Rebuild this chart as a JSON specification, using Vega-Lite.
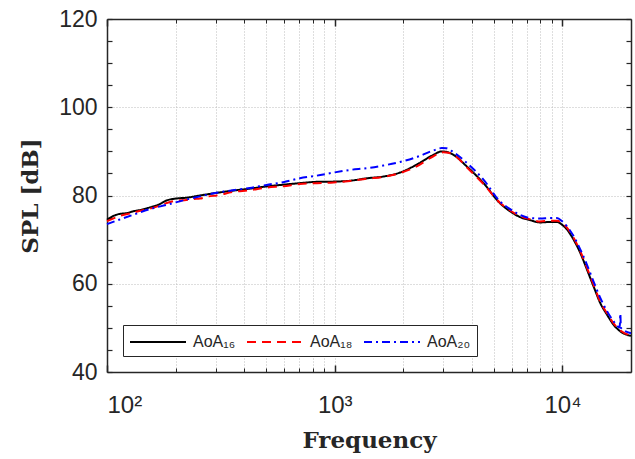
{
  "$schema": "https://vega.github.io/schema/vega-lite/v6.json",
  "width": 524,
  "height": 353,
  "autosize": {"type": "none"},
  "padding": {"left": 107, "top": 19, "right": 4, "bottom": 87},
  "background": "white",
  "config": {"view": {"stroke": null}},
  "datasets": {
    "curves": [
      {"s":"AoA₁₆","f":100,"spl":74.5},{"s":"AoA₁₆","f":106,"spl":75.3},{"s":"AoA₁₆","f":113,"spl":75.8},{"s":"AoA₁₆","f":122,"spl":76.0},{"s":"AoA₁₆","f":130,"spl":76.4},{"s":"AoA₁₆","f":142,"spl":76.8},{"s":"AoA₁₆","f":154,"spl":77.3},{"s":"AoA₁₆","f":168,"spl":77.9},{"s":"AoA₁₆","f":183,"spl":78.9},{"s":"AoA₁₆","f":200,"spl":79.3},{"s":"AoA₁₆","f":223,"spl":79.5},{"s":"AoA₁₆","f":256,"spl":80.0},{"s":"AoA₁₆","f":303,"spl":80.6},{"s":"AoA₁₆","f":357,"spl":81.1},{"s":"AoA₁₆","f":424,"spl":81.55},{"s":"AoA₁₆","f":502,"spl":82.05},{"s":"AoA₁₆","f":594,"spl":82.45},{"s":"AoA₁₆","f":703,"spl":82.8},{"s":"AoA₁₆","f":835,"spl":83.1},{"s":"AoA₁₆","f":988,"spl":83.15},{"s":"AoA₁₆","f":1169,"spl":83.35},{"s":"AoA₁₆","f":1383,"spl":83.9},{"s":"AoA₁₆","f":1636,"spl":84.3},{"s":"AoA₁₆","f":1936,"spl":85.2},{"s":"AoA₁₆","f":2291,"spl":87.0},{"s":"AoA₁₆","f":2712,"spl":89.2},{"s":"AoA₁₆","f":2950,"spl":90.0},{"s":"AoA₁₆","f":3090,"spl":89.9},{"s":"AoA₁₆","f":3300,"spl":89.3},{"s":"AoA₁₆","f":3800,"spl":86.6},{"s":"AoA₁₆","f":4500,"spl":82.8},{"s":"AoA₁₆","f":5330,"spl":78.2},{"s":"AoA₁₆","f":5896,"spl":76.4},{"s":"AoA₁₆","f":6523,"spl":75.1},{"s":"AoA₁₆","f":7220,"spl":74.4},{"s":"AoA₁₆","f":7988,"spl":73.9},{"s":"AoA₁₆","f":8841,"spl":74.0},{"s":"AoA₁₆","f":9459,"spl":74.0},{"s":"AoA₁₆","f":9949,"spl":73.4},{"s":"AoA₁₆","f":10466,"spl":72.3},{"s":"AoA₁₆","f":11190,"spl":70.0},{"s":"AoA₁₆","f":11973,"spl":67.0},{"s":"AoA₁₆","f":12817,"spl":63.2},{"s":"AoA₁₆","f":13697,"spl":59.4},{"s":"AoA₁₆","f":14664,"spl":55.6},{"s":"AoA₁₆","f":15689,"spl":53.0},{"s":"AoA₁₆","f":16777,"spl":50.7},{"s":"AoA₁₆","f":17955,"spl":49.2},{"s":"AoA₁₆","f":20000,"spl":48.2},
      {"s":"AoA₁₈","f":100,"spl":74.2},{"s":"AoA₁₈","f":113,"spl":75.3},{"s":"AoA₁₈","f":130,"spl":76.1},{"s":"AoA₁₈","f":142,"spl":76.6},{"s":"AoA₁₈","f":154,"spl":77.0},{"s":"AoA₁₈","f":168,"spl":77.6},{"s":"AoA₁₈","f":183,"spl":78.3},{"s":"AoA₁₈","f":200,"spl":78.8},{"s":"AoA₁₈","f":223,"spl":79.0},{"s":"AoA₁₈","f":240,"spl":79.2},{"s":"AoA₁₈","f":256,"spl":79.3},{"s":"AoA₁₈","f":280,"spl":79.8},{"s":"AoA₁₈","f":303,"spl":80.0},{"s":"AoA₁₈","f":357,"spl":80.8},{"s":"AoA₁₈","f":424,"spl":81.2},{"s":"AoA₁₈","f":502,"spl":81.8},{"s":"AoA₁₈","f":594,"spl":82.1},{"s":"AoA₁₈","f":703,"spl":82.6},{"s":"AoA₁₈","f":835,"spl":82.8},{"s":"AoA₁₈","f":988,"spl":82.95},{"s":"AoA₁₈","f":1169,"spl":83.3},{"s":"AoA₁₈","f":1383,"spl":83.8},{"s":"AoA₁₈","f":1636,"spl":84.2},{"s":"AoA₁₈","f":1936,"spl":85.1},{"s":"AoA₁₈","f":2291,"spl":86.6},{"s":"AoA₁₈","f":2712,"spl":88.9},{"s":"AoA₁₈","f":3000,"spl":89.8},{"s":"AoA₁₈","f":3150,"spl":89.7},{"s":"AoA₁₈","f":3400,"spl":88.9},{"s":"AoA₁₈","f":3800,"spl":86.4},{"s":"AoA₁₈","f":4500,"spl":82.6},{"s":"AoA₁₈","f":5330,"spl":78.3},{"s":"AoA₁₈","f":5896,"spl":76.6},{"s":"AoA₁₈","f":6523,"spl":75.3},{"s":"AoA₁₈","f":7220,"spl":74.6},{"s":"AoA₁₈","f":7988,"spl":74.1},{"s":"AoA₁₈","f":8841,"spl":74.3},{"s":"AoA₁₈","f":9459,"spl":74.3},{"s":"AoA₁₈","f":9949,"spl":73.8},{"s":"AoA₁₈","f":10466,"spl":72.7},{"s":"AoA₁₈","f":11190,"spl":70.4},{"s":"AoA₁₈","f":11973,"spl":67.4},{"s":"AoA₁₈","f":12817,"spl":63.6},{"s":"AoA₁₈","f":13697,"spl":59.8},{"s":"AoA₁₈","f":14664,"spl":55.9},{"s":"AoA₁₈","f":15689,"spl":53.3},{"s":"AoA₁₈","f":16777,"spl":51.0},{"s":"AoA₁₈","f":17955,"spl":49.4},{"s":"AoA₁₈","f":20000,"spl":48.3},
      {"s":"AoA₂₀","f":100,"spl":73.5},{"s":"AoA₂₀","f":113,"spl":74.5},{"s":"AoA₂₀","f":130,"spl":75.6},{"s":"AoA₂₀","f":154,"spl":76.9},{"s":"AoA₂₀","f":183,"spl":77.9},{"s":"AoA₂₀","f":216,"spl":78.9},{"s":"AoA₂₀","f":256,"spl":79.8},{"s":"AoA₂₀","f":303,"spl":80.6},{"s":"AoA₂₀","f":357,"spl":81.2},{"s":"AoA₂₀","f":424,"spl":81.7},{"s":"AoA₂₀","f":502,"spl":82.4},{"s":"AoA₂₀","f":594,"spl":83.0},{"s":"AoA₂₀","f":703,"spl":83.9},{"s":"AoA₂₀","f":835,"spl":84.5},{"s":"AoA₂₀","f":988,"spl":85.2},{"s":"AoA₂₀","f":1169,"spl":85.8},{"s":"AoA₂₀","f":1383,"spl":86.2},{"s":"AoA₂₀","f":1636,"spl":86.8},{"s":"AoA₂₀","f":1936,"spl":87.6},{"s":"AoA₂₀","f":2291,"spl":88.7},{"s":"AoA₂₀","f":2712,"spl":90.2},{"s":"AoA₂₀","f":2950,"spl":90.75},{"s":"AoA₂₀","f":3090,"spl":90.7},{"s":"AoA₂₀","f":3300,"spl":89.9},{"s":"AoA₂₀","f":3800,"spl":87.4},{"s":"AoA₂₀","f":4500,"spl":83.6},{"s":"AoA₂₀","f":5330,"spl":78.6},{"s":"AoA₂₀","f":5896,"spl":76.9},{"s":"AoA₂₀","f":6523,"spl":75.6},{"s":"AoA₂₀","f":7220,"spl":74.9},{"s":"AoA₂₀","f":7988,"spl":74.8},{"s":"AoA₂₀","f":8841,"spl":74.9},{"s":"AoA₂₀","f":9459,"spl":74.9},{"s":"AoA₂₀","f":9949,"spl":74.2},{"s":"AoA₂₀","f":10466,"spl":73.0},{"s":"AoA₂₀","f":11190,"spl":70.8},{"s":"AoA₂₀","f":11973,"spl":67.8},{"s":"AoA₂₀","f":12817,"spl":64.3},{"s":"AoA₂₀","f":13697,"spl":60.5},{"s":"AoA₂₀","f":14664,"spl":56.8},{"s":"AoA₂₀","f":15689,"spl":53.8},{"s":"AoA₂₀","f":16777,"spl":51.5},{"s":"AoA₂₀","f":17850,"spl":50.1},{"s":"AoA₂₀","f":17955,"spl":53.2},{"s":"AoA₂₀","f":18060,"spl":50.0},{"s":"AoA₂₀","f":20000,"spl":48.8}
    ]
  },
  "data": {"name": "curves"},
  "layer": [
    {
      "mark": {"type": "line", "opacity": 0},
      "encoding": {
        "x": {"field": "f", "type": "quantitative", "scale": {"type": "log", "domain": [100, 20000], "nice": false},
          "axis": {"orient": "bottom", "values": [200,300,400,500,600,700,800,900,1000,2000,3000,4000,5000,6000,7000,8000,9000,10000],
            "grid": true, "gridColor": "#bdbdbd", "gridDash": [1, 2], "gridWidth": 1,
            "ticks": true, "tickSize": -4, "tickColor": "#262626", "tickWidth": 1,
            "labels": false, "domain": false, "title": null}},
        "y": {"field": "spl", "type": "quantitative", "scale": {"domain": [40, 120], "nice": false, "zero": false},
          "axis": {"orient": "left", "values": [60, 80, 100], "grid": true, "gridColor": "#bdbdbd", "gridDash": [1, 2], "gridWidth": 1,
            "ticks": false, "labels": false, "domain": false, "title": null}}
      }
    },
    {
      "mark": {"type": "line", "opacity": 0},
      "encoding": {
        "x": {"field": "f", "type": "quantitative", "scale": {"type": "log", "domain": [100, 20000], "nice": false},
          "axis": {"orient": "top", "values": [100, 1000, 10000], "grid": false, "tickSize": -7, "tickColor": "#262626", "tickWidth": 1.5,
            "labels": false, "domain": true, "domainColor": "#262626", "domainWidth": 1.5, "title": null}},
        "y": {"field": "spl", "type": "quantitative", "scale": {"domain": [40, 120], "nice": false, "zero": false},
          "axis": {"orient": "right", "values": [40,45,50,55,60,65,70,75,80,85,90,95,100,105,110,115,120], "grid": false,
            "tickSize": -5, "tickColor": "#262626", "tickWidth": 1.2, "labels": false, "domain": true, "domainColor": "#262626", "domainWidth": 1.5, "title": null}}
      }
    },
    {
      "mark": {"type": "line", "opacity": 0},
      "encoding": {
        "x": {"field": "f", "type": "quantitative", "scale": {"type": "log", "domain": [100, 20000], "nice": false},
          "axis": {"orient": "top", "values": [200,300,400,500,600,700,800,900,2000,3000,4000,5000,6000,7000,8000,9000],
            "grid": false, "tickSize": -4, "tickColor": "#262626", "tickWidth": 1, "labels": false, "domain": false, "title": null}},
        "y": {"field": "spl", "type": "quantitative", "axis": null}
      }
    },
    {
      "mark": {"type": "line", "strokeWidth": 2, "interpolate": "monotone"},
      "encoding": {
        "x": {"field": "f", "type": "quantitative", "scale": {"type": "log", "domain": [100, 20000], "nice": false},
          "axis": {"orient": "bottom", "values": [100, 1000, 10000], "grid": false, "tickSize": -7, "tickColor": "#262626", "tickWidth": 1.5,
            "labelExpr": "datum.value == 100 ? '10²' : datum.value == 1000 ? '10³' : '10⁴'",
            "labelFont": "Liberation Sans", "labelFontSize": 24, "labelColor": "#262626", "labelPadding": 28,
            "domain": true, "domainColor": "#262626", "domainWidth": 1.5,
            "title": "Frequency", "titleFont": "DejaVu Serif", "titleFontSize": 23, "titleFontWeight": "bold", "titleColor": "#262626",
            "titleX": 262, "titleY": 75, "titleBaseline": "alphabetic", "titleAlign": "center"}},
        "y": {"field": "spl", "type": "quantitative", "scale": {"domain": [40, 120], "nice": false, "zero": false},
          "axis": {"orient": "left", "values": [40,45,50,55,60,65,70,75,80,85,90,95,100,105,110,115,120], "grid": false,
            "tickSize": -5, "tickColor": "#262626", "tickWidth": 1.2,
            "labelExpr": "datum.value % 20 == 0 ? datum.label : ''",
            "labelFont": "Liberation Sans", "labelFontSize": 23, "labelColor": "#262626", "labelPadding": 15,
            "domain": true, "domainColor": "#262626", "domainWidth": 1.5,
            "title": "SPL [dB]", "titleFont": "DejaVu Serif", "titleFontSize": 23, "titleFontWeight": "bold", "titleColor": "#262626",
            "titleX": -77, "titleY": 176.5, "titleAngle": 270, "titleBaseline": "middle", "titleAlign": "center"}},
        "color": {"field": "s", "type": "nominal",
          "scale": {"domain": ["AoA₁₆", "AoA₁₈", "AoA₂₀"], "range": ["#000000", "#ff0000", "#0000ff"]},
          "legend": {"orient": "none", "legendX": 16, "legendY": 306, "direction": "horizontal", "title": null,
            "strokeColor": "#262626", "fillColor": "white", "padding": 6,
            "symbolType": "M-1,0H4.6", "symbolSize": 400, "symbolStrokeWidth": 2,
            "labelFont": "Liberation Sans", "labelFontSize": 16, "labelColor": "#262626", "labelOffset": 42, "columnPadding": 7}},
        "strokeDash": {"field": "s", "type": "nominal",
          "scale": {"domain": ["AoA₁₆", "AoA₁₈", "AoA₂₀"], "range": [[1, 0], [9, 6], [8, 4, 2, 4]]},
          "legend": null}
      }
    }
  ],
  "resolve": {"axis": {"x": "independent", "y": "independent"}}
}
